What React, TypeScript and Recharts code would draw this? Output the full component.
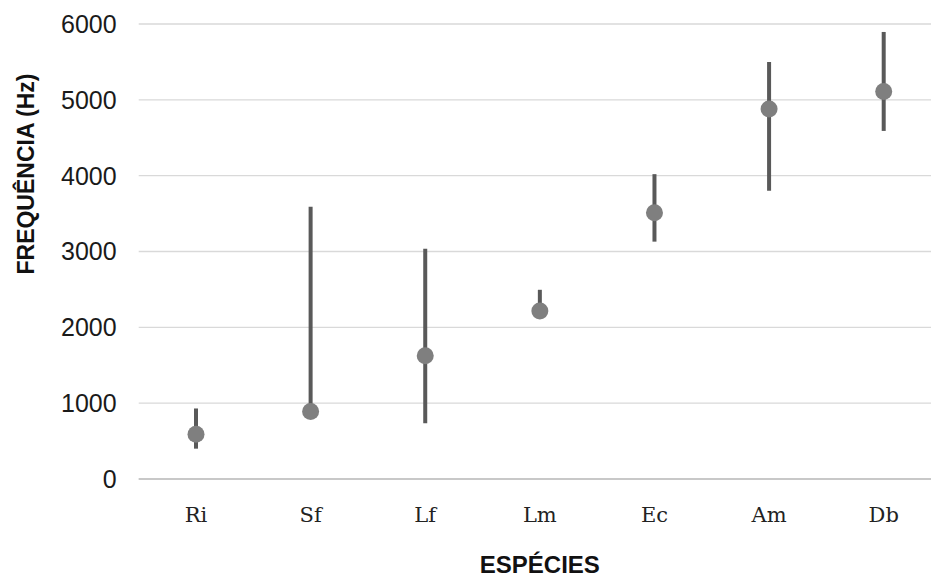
import { LineChart, Line, XAxis, YAxis, CartesianGrid, ErrorBar } from "recharts"

const species = ["Ri", "Sf", "Lf", "Lm", "Ec", "Am", "Db"]
const means = [590, 890, 1625, 2215, 3510, 4880, 5110]
const lows = [400, 890, 735, 2215, 3130, 3800, 4590]
const highs = [930, 3590, 3035, 2495, 4020, 5500, 5895]
const yTicks = [0, 1000, 2000, 3000, 4000, 5000, 6000]

const data = species.map((name, i) => ({
  name,
  freq: means[i],
  err: [means[i] - lows[i], highs[i] - means[i]],
}))

const YLabel = () => (
  <text
    x={26}
    y={174}
    transform="rotate(-90 26 174)"
    textAnchor="middle"
    dominantBaseline="central"
    fontFamily="'Liberation Sans', Arial, sans-serif"
    fontWeight="bold"
    fontSize={23}
    fill="#111"
  >
    FREQUÊNCIA (Hz)
  </text>
)

export default function App() {
  return (
    <div style={{ width: 931, height: 578, overflow: "hidden", background: "#fff" }}>
      <style>{`body{margin:0}`}</style>
      <LineChart width={942} height={578} data={data} margin={{ top: 24, right: 1, left: 0, bottom: 39 }}>
        <CartesianGrid vertical={false} stroke="#d9d9d9" strokeWidth={1.3} />
        <XAxis
          dataKey="name"
          height={60}
          padding={{ left: 57.3, right: 57.3 }}
          axisLine={{ stroke: "#bfbfbf", strokeWidth: 1.5 }}
          tickLine={false}
          tickSize={0}
          tickMargin={28}
          tick={{ fontSize: 21, fontFamily: "'DejaVu Serif', serif", fill: "#222" }}
          label={{
            value: "ESPÉCIES",
            position: "bottom",
            offset: 17,
            style: { fontSize: 24, fontWeight: "bold", fontFamily: "'Liberation Sans', Arial, sans-serif", fill: "#111" },
          }}
        />
        <YAxis
          width={138.7}
          domain={[0, 6000]}
          ticks={yTicks}
          axisLine={false}
          tickLine={false}
          tickSize={0}
          tickMargin={22}
          tick={{ fontSize: 25, fontFamily: "'Liberation Sans', Arial, sans-serif", fill: "#1a1a1a" }}
          label={{ content: () => <YLabel /> }}
        />
        <Line
          dataKey="freq"
          stroke="none"
          strokeWidth={0}
          isAnimationActive={false}
          activeDot={false}
          dot={{ r: 8.5, fill: "#7f7f7f", stroke: "none", strokeWidth: 0 }}
        >
          <ErrorBar dataKey="err" direction="y" width={0} stroke="#595959" strokeWidth={4} />
        </Line>
      </LineChart>
    </div>
  )
}
